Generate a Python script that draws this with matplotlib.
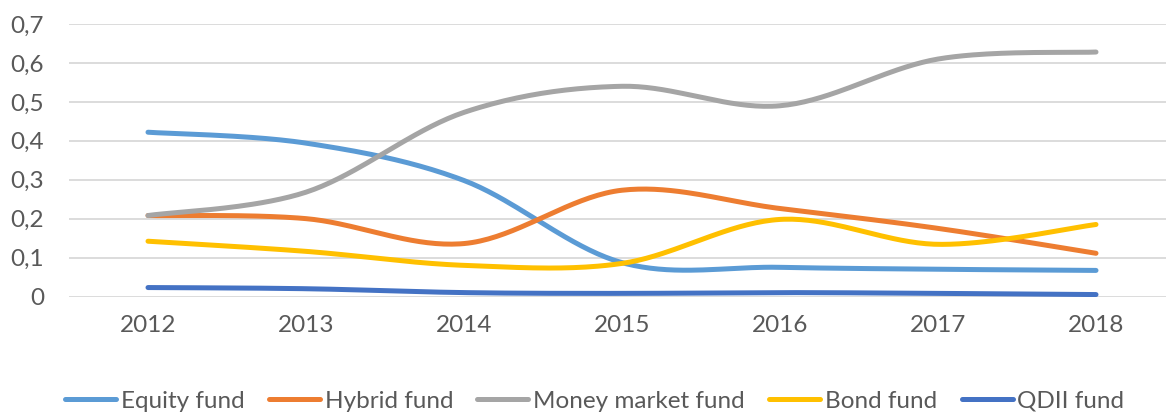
import matplotlib
matplotlib.use("Agg")
import matplotlib.pyplot as plt
import numpy as np
from matplotlib.ticker import FuncFormatter

years = ["2012", "2013", "2014", "2015", "2016", "2017", "2018"]
equity = [0.422, 0.394, 0.298, 0.087, 0.075, 0.070, 0.067]
hybrid = [0.208, 0.200, 0.136, 0.273, 0.226, 0.175, 0.111]
money = [0.208, 0.268, 0.473, 0.540, 0.490, 0.610, 0.628]
bond = [0.142, 0.116, 0.080, 0.085, 0.198, 0.134, 0.185]
qdii = [0.023, 0.020, 0.010, 0.008, 0.010, 0.008, 0.005]

series = [
    ("Equity fund", equity, "#5B9BD5"),
    ("Hybrid fund", hybrid, "#ED7D31"),
    ("Money market fund", money, "#A5A5A5"),
    ("Bond fund", bond, "#FFC000"),
    ("QDII fund", qdii, "#4472C4"),
]


# Excel-like smoothing: cubic Bezier segments with Catmull-Rom control points
def smooth(xs, ys, n=40):
    p = np.column_stack([xs, ys]).astype(float)
    p = np.vstack([p[0], p, p[-1]])
    out = []
    for i in range(1, len(p) - 2):
        p0, p1, p2, p3 = p[i - 1], p[i], p[i + 1], p[i + 2]
        b1 = p1 + (p2 - p0) / 6
        b2 = p2 - (p3 - p1) / 6
        t = np.linspace(0, 1, n)[:, None]
        seg = ((1 - t) ** 3) * p1 + 3 * ((1 - t) ** 2) * t * b1 \
            + 3 * (1 - t) * t ** 2 * b2 + t ** 3 * p2
        out.append(seg if i == 1 else seg[1:])
    seg = np.vstack(out)
    return seg[:, 0], seg[:, 1]


plt.rcParams["font.family"] = ["Lato", "DejaVu Sans"]
fs = 17.5

fig = plt.figure(figsize=(11.66, 4.16), dpi=100)
ax = fig.add_axes([69 / 1166, 1 - 296.5 / 416, 1106 / 1166, 272.5 / 416])

x = np.arange(len(years))
for name, vals, col in series:
    sx, sy = smooth(x, vals)
    ax.plot(sx, sy, color=col, lw=3.6, solid_capstyle="round", label=name)

ax.set_xlim(-0.5, len(years) - 0.5)
ax.set_ylim(0, 0.7)
ax.set_yticks(np.arange(0, 0.71, 0.1))
ax.yaxis.set_major_formatter(FuncFormatter(
    lambda v, _: "0" if abs(v) < 1e-9 else f"{v:.1f}".replace(".", ",")))
ax.set_xticks(x)
ax.set_xticklabels(years)
ax.grid(axis="y", color="#D9D9D9", lw=1.3)
ax.set_axisbelow(True)
for s in ax.spines.values():
    s.set_visible(False)
ax.tick_params(axis="both", length=0, labelsize=fs, labelcolor="#595959")
ax.tick_params(axis="y", pad=18)
ax.tick_params(axis="x", pad=13)

fig.legend(loc="center", bbox_to_anchor=(0.51, 1 - 401 / 416), ncol=5,
           frameon=False, fontsize=fs, labelcolor="#595959",
           handlelength=2.1, handletextpad=0.2, columnspacing=1.0)

fig.savefig("out.png", dpi=100)
